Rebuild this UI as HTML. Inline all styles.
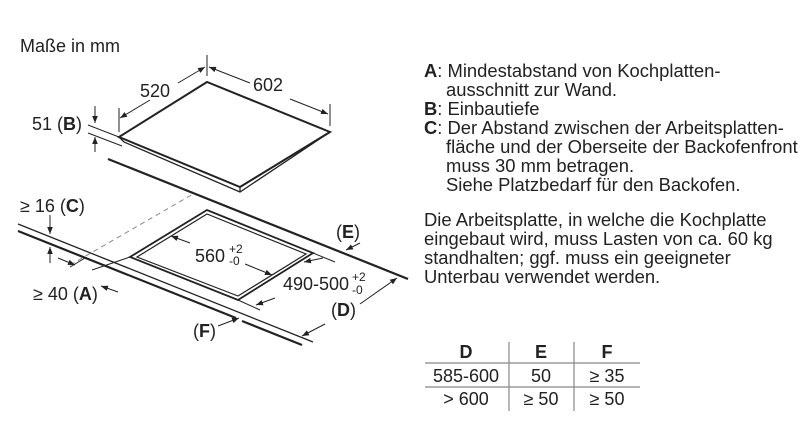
<!DOCTYPE html>
<html><head><meta charset="utf-8"><style>
body{margin:0;background:#fff;width:809px;height:443px;overflow:hidden;font-family:"Liberation Sans",sans-serif;color:#222}
svg{position:absolute;left:0;top:0}
text{font-family:"Liberation Sans",sans-serif;fill:#222}
</style></head><body>
<svg width="809" height="443" viewBox="0 0 809 443">
<defs><marker id="a" viewBox="0 0 10 10" refX="10" refY="5" markerWidth="7" markerHeight="7" orient="auto-start-reverse"><path d="M0,1L10,5L0,9z" fill="#222"/></marker></defs>
<text x="20" y="52" font-size="18">Maße in mm</text>
<g stroke="#222" fill="none">
<path d="M119,137L207,82L330,132L240,187Z" stroke-width="2" fill="#fff"/>
<path d="M119,137L124,142L240,192L330,132" stroke-width="1.3"/>
<line x1="240" y1="187" x2="240" y2="192" stroke-width="1.3"/>
<line x1="108" y1="159" x2="408" y2="279" stroke-width="2.2"/>
<line x1="18" y1="224" x2="313" y2="342" stroke-width="1.3"/>
<path d="M18,231L236,318M242,321L302,345" stroke-width="2.2"/>
<line x1="70" y1="265" x2="195" y2="193" stroke-width="1" stroke-dasharray="5,4" stroke="#888"/>
<path d="M207,210L130,257L238,300L313,253Z" stroke-width="1.8"/>
<path d="M207,214L137,257L238,296L306,254Z" stroke-width="1.2"/>
<line x1="119" y1="108" x2="119" y2="132" stroke-width="1"/>
<line x1="207" y1="55" x2="207" y2="76" stroke-width="1"/>
<line x1="330" y1="104" x2="330" y2="126" stroke-width="1"/>
<line x1="120" y1="118" x2="150" y2="100" stroke-width="1" marker-start="url(#a)"/>
<line x1="178" y1="83" x2="205" y2="67" stroke-width="1" marker-end="url(#a)"/>
<line x1="209" y1="67" x2="250" y2="83" stroke-width="1" marker-start="url(#a)"/>
<line x1="290" y1="99" x2="328" y2="114" stroke-width="1" marker-end="url(#a)"/>
<line x1="88" y1="125" x2="119" y2="137" stroke-width="1"/>
<line x1="88" y1="133" x2="122" y2="146" stroke-width="1"/>
<line x1="95" y1="106" x2="95" y2="123" stroke-width="1" marker-end="url(#a)"/>
<line x1="95" y1="152" x2="95" y2="137" stroke-width="1" marker-end="url(#a)"/>
<line x1="50" y1="215" x2="50" y2="234" stroke-width="1" marker-end="url(#a)"/>
<line x1="50" y1="263" x2="50" y2="247" stroke-width="1" marker-end="url(#a)"/>
<line x1="58" y1="258" x2="75" y2="265" stroke-width="1" marker-end="url(#a)"/>
<line x1="70" y1="267" x2="85" y2="258" stroke-width="1"/>
<line x1="92" y1="270" x2="130" y2="257" stroke-width="1"/>
<line x1="118" y1="292" x2="101" y2="286" stroke-width="1" marker-end="url(#a)"/>
<line x1="190" y1="243" x2="171" y2="236" stroke-width="1" marker-end="url(#a)"/>
<line x1="245" y1="264" x2="272" y2="275" stroke-width="1" marker-end="url(#a)"/>
<line x1="313" y1="253" x2="335" y2="262" stroke-width="1"/>
<line x1="238" y1="300" x2="260" y2="310" stroke-width="1"/>
<line x1="304" y1="262" x2="323" y2="258" stroke-width="1" marker-start="url(#a)"/>
<line x1="256" y1="305" x2="275" y2="298" stroke-width="1" marker-start="url(#a)"/>
<line x1="360" y1="243" x2="346" y2="250" stroke-width="1" marker-end="url(#a)"/>
<line x1="302" y1="336" x2="325" y2="324" stroke-width="1" marker-start="url(#a)"/>
<line x1="360" y1="304" x2="397" y2="278" stroke-width="1" marker-end="url(#a)"/>
<line x1="218" y1="326" x2="239" y2="318" stroke-width="1" marker-end="url(#a)"/>
</g>
<g font-size="18">
<text x="140" y="97">520</text>
<text x="253" y="91">602</text>
<text x="32" y="130">51 (<tspan font-weight="bold">B</tspan>)</text>
<text x="20" y="212">≥ 16 (<tspan font-weight="bold">C</tspan>)</text>
<text x="33" y="300">≥ 40 (<tspan font-weight="bold">A</tspan>)</text>
<text x="195" y="262">560</text><text x="229" y="253" font-size="12">+2</text><text x="229" y="265" font-size="12">-0</text>
<text x="283" y="290">490-500</text><text x="352" y="281" font-size="12">+2</text><text x="352" y="294" font-size="12">-0</text>
<text x="336" y="238">(<tspan font-weight="bold">E</tspan>)</text>
<text x="331" y="316">(<tspan font-weight="bold">D</tspan>)</text>
<text x="193" y="337">(<tspan font-weight="bold">F</tspan>)</text>
</g>
<g font-size="18.4">
<text x="424" y="77"><tspan font-weight="bold">A</tspan>: Mindestabstand von Kochplatten-</text>
<text x="446" y="96">ausschnitt zur Wand.</text>
<text x="424" y="115"><tspan font-weight="bold">B</tspan>: Einbautiefe</text>
<text x="424" y="134"><tspan font-weight="bold">C</tspan>: Der Abstand zwischen der Arbeitsplatten-</text>
<text x="446" y="153">fläche und der Oberseite der Backofenfront</text>
<text x="446" y="172">muss 30 mm betragen.</text>
<text x="446" y="191">Siehe Platzbedarf für den Backofen.</text>
<text x="424" y="226">Die Arbeitsplatte, in welche die Kochplatte</text>
<text x="424" y="245">eingebaut wird, muss Lasten von ca. 60 kg</text>
<text x="424" y="264">standhalten; ggf. muss ein geeigneter</text>
<text x="424" y="283">Unterbau verwendet werden.</text>
</g>
<g stroke="#888" stroke-width="1.2">
<line x1="425" y1="363" x2="640" y2="363"/>
<line x1="425" y1="387" x2="640" y2="387"/>
<line x1="509" y1="342" x2="509" y2="411"/>
<line x1="574" y1="342" x2="574" y2="411"/>
</g>
<g font-size="18" text-anchor="middle">
<text x="466" y="358" font-weight="bold">D</text>
<text x="541" y="358" font-weight="bold">E</text>
<text x="607" y="358" font-weight="bold">F</text>
<text x="466" y="382">585-600</text>
<text x="541" y="382">50</text>
<text x="607" y="382">≥ 35</text>
<text x="466" y="405">&gt; 600</text>
<text x="541" y="405">≥ 50</text>
<text x="607" y="405">≥ 50</text>
</g>
</svg>
</body></html>
